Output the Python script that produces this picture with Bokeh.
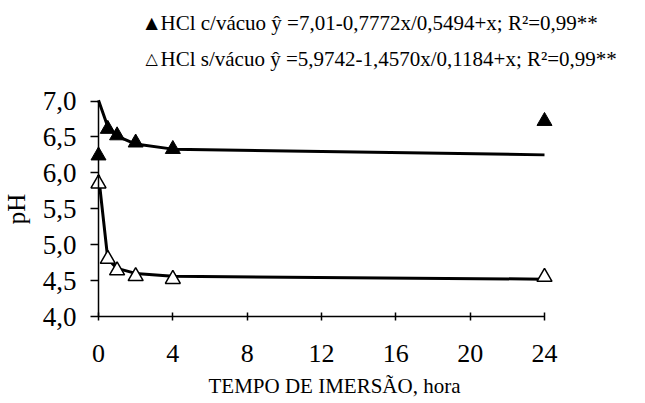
from bokeh.plotting import figure
from bokeh.models import Label, FixedTicker, Range1d, CustomJSTickFormatter
from bokeh.embed import file_html
from bokeh.resources import INLINE

# ---- data ----
hours = [0, 0.5, 1, 2, 4, 24]
ph_vacuo = [6.24, 6.61, 6.52, 6.42, 6.33, 6.72]       # HCl c/vácuo (observed)
ph_sem_vacuo = [5.85, 4.80, 4.64, 4.56, 4.52, 4.55]   # HCl s/vácuo (observed)
fit_vacuo = [7.01, 6.64, 6.51, 6.40, 6.33, 6.25]      # fitted curve c/vácuo
fit_sem_vacuo = [5.97, 4.80, 4.67, 4.60, 4.56, 4.52]  # fitted curve s/vácuo
x_ticks = [0, 4, 8, 12, 16, 20, 24]
y_ticks = [4.0, 4.5, 5.0, 5.5, 6.0, 6.5, 7.0]
legend_1 = "HCl c/vácuo  \u0177 =7,01-0,7772x/0,5494+x; R\u00b2=0,99**"
legend_2 = "HCl s/vácuo  \u0177 =5,9742-1,4570x/0,1184+x; R\u00b2=0,99**"
x_title = "TEMPO DE IMERSÃO, hora"
y_title = "pH"

FONT = "Liberation Serif"
W, H = 645, 403

# The frame fills the whole canvas; axes are placed at x=0 / y=4 with fixed_location.
# x: 0 -> px 98, 24 -> px 544 ; y: 7 -> px 100.5, 4 -> px 316
sx = (544 - 98) / 24.0
sy = (316 - 100.5) / 3.0
p = figure(width=W, height=H, output_backend="svg", toolbar_location=None,
           x_range=Range1d(-98 / sx, (W - 98) / sx),
           y_range=Range1d(4 - (H - 316) / sy, 4 + 316 / sy),
           min_border=0)
p.outline_line_color = None
p.grid.visible = False
p.background_fill_color = "white"
p.border_fill_color = "white"

# fitted lines
p.line(hours, fit_vacuo, line_color="black", line_width=3)
p.line(hours, fit_sem_vacuo, line_color="black", line_width=3)

# observed points
p.scatter(hours, ph_vacuo, marker="triangle", size=15, fill_color="black",
          line_color="black", line_width=1)
p.scatter(hours, ph_sem_vacuo, marker="triangle", size=15, fill_color="white",
          line_color="black", line_width=1.5)

# axes
for ax in (p.xaxis[0], p.yaxis[0]):
    ax.axis_line_color = "black"
    ax.axis_line_width = 1.5
    ax.major_tick_line_color = "black"
    ax.major_tick_line_width = 1.5
    ax.minor_tick_line_color = None
    ax.major_label_text_font = FONT
    ax.major_label_text_color = "black"
    ax.axis_label_text_font = FONT
    ax.axis_label_text_font_style = "normal"
    ax.axis_label_text_color = "black"

p.xaxis.bounds = (0, 24)
p.xaxis.fixed_location = 4.0
p.xaxis.ticker = FixedTicker(ticks=x_ticks)
p.xaxis.major_tick_in = 4
p.xaxis.major_tick_out = 4
p.xaxis.major_label_text_font_size = "26px"
p.xaxis.major_label_standoff = 24

p.yaxis.bounds = (4.0, 7.0)
p.yaxis.fixed_location = 0
p.yaxis.ticker = FixedTicker(ticks=y_ticks)
p.yaxis.major_tick_in = 0
p.yaxis.major_tick_out = 8
p.yaxis.major_label_text_font_size = "27px"
p.yaxis.major_label_standoff = 14
p.yaxis.formatter = CustomJSTickFormatter(code="return tick.toFixed(1).replace('.', ',');")
p.yaxis.axis_label = y_title
p.yaxis.axis_label_text_font_size = "25px"
p.yaxis.axis_label_standoff = 10

# x-axis title (screen coordinates are relative to the frame = canvas here)
p.add_layout(Label(x=334, y=H - 385, x_units="screen", y_units="screen",
                   text=x_title, text_font=FONT, text_font_size="21px",
                   text_color="black", text_align="center",
                   text_baseline="alphabetic"))

# legend (top)
for i, (sym, txt) in enumerate([("\u25b2", legend_1), ("\u25b3", legend_2)]):
    base = 22 + i * 36
    p.add_layout(Label(x=145, y=H - base, x_units="screen", y_units="screen",
                       text=sym, text_font="DejaVu Sans", text_font_size="16px",
                       text_color="black", text_baseline="alphabetic"))
    p.add_layout(Label(x=160, y=H - base, x_units="screen", y_units="screen",
                       text=txt, text_font=FONT, text_font_size="21px",
                       text_color="black", text_baseline="alphabetic"))

open("out.html", "w").write(file_html(p, INLINE))
